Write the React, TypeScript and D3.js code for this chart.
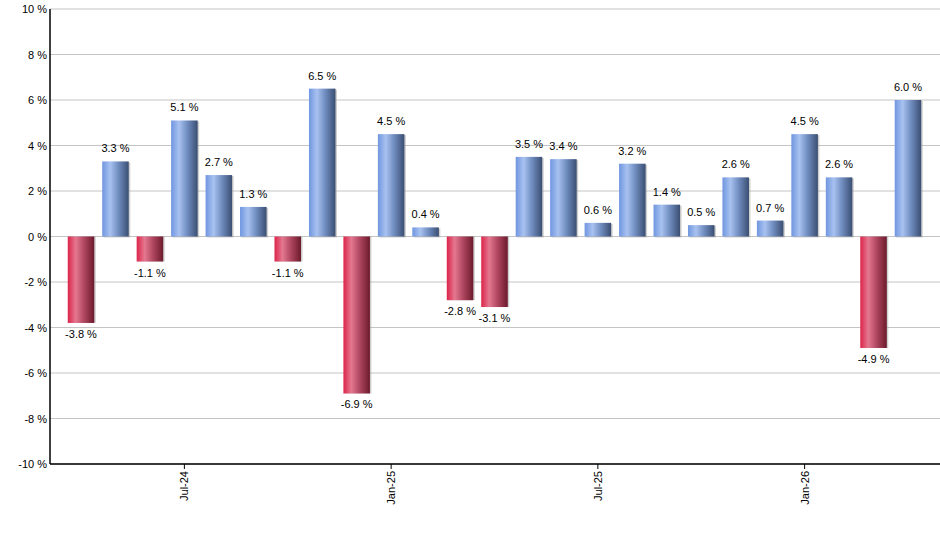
import React, {useEffect, useRef} from 'react';
import * as d3 from 'd3';

// monthly returns, Apr-24 .. Apr-26
const months = [
  'Apr-24', 'May-24', 'Jun-24', 'Jul-24', 'Aug-24', 'Sep-24', 'Oct-24', 'Nov-24', 'Dec-24',
  'Jan-25', 'Feb-25', 'Mar-25', 'Apr-25', 'May-25', 'Jun-25', 'Jul-25', 'Aug-25', 'Sep-25',
  'Oct-25', 'Nov-25', 'Dec-25', 'Jan-26', 'Feb-26', 'Mar-26', 'Apr-26'
];
const returns = [
  -3.8, 3.3, -1.1, 5.1, 2.7, 1.3, -1.1, 6.5, -6.9,
  4.5, 0.4, -2.8, -3.1, 3.5, 3.4, 0.6, 3.2, 1.4,
  0.5, 2.6, 0.7, 4.5, 2.6, -4.9, 6.0
];
const tickMonths = ['Jul-24', 'Jan-25', 'Jul-25', 'Jan-26'];
const yTicks = [-10, -8, -6, -4, -2, 0, 2, 4, 6, 8, 10];

const width = 940, height = 550;
const left = 50, right = 940, top = 9, bottom = 464;

const App: React.FC = () => {
  const ref = useRef<SVGSVGElement>(null);

  useEffect(() => {
    const svg = d3.select(ref.current!);
    svg.selectAll('*').remove();

    const defs = svg.append('defs');
    const grad = (id: string, stops: [number, string][]) => {
      const g = defs.append('linearGradient').attr('id', id)
      .attr('x1', '0%').attr('x2', '100%').attr('y1', '0%').attr('y2', '0%');
      stops.forEach(([o, c]) => g.append('stop').attr('offset', o + '%').attr('stop-color', c));
    };
    grad('pos', [[0, '#7096e0'], [30, '#a8c2f0'], [60, '#728fc2'], [100, '#3a4e72']]);
    grad('neg', [[0, '#dc2449'], [30, '#e47890'], [60, '#b24862'], [100, '#6c1a2c']]);

    const x = d3.scaleBand<string>()
    .domain(months)
    .range([67.75, 921.25])
    .paddingInner(0.23)
    .paddingOuter(0);

    const y = d3.scaleLinear()
    .domain([-10, 10])
    .range([bottom, top]);

    // grid
    svg.append('g')
    .selectAll('line')
    .data(yTicks)
    .enter().append('line')
    .attr('x1', left).attr('x2', right)
    .attr('y1', d => y(d)).attr('y2', d => y(d))
    .attr('stroke', '#c4c4c4')
    .attr('stroke-width', 1);

    // bar shadows
    svg.append('g')
    .selectAll('rect')
    .data(returns)
    .enter().append('rect')
    .attr('x', (_, i) => x(months[i])! + 1.5)
    .attr('width', x.bandwidth())
    .attr('y', d => d >= 0 ? y(d) + 1 : y(0))
    .attr('height', d => Math.abs(y(d) - y(0)))
    .attr('fill', '#a0a0a0')
    .attr('opacity', 0.5);

    // bars
    svg.append('g')
    .selectAll('rect')
    .data(returns)
    .enter().append('rect')
    .attr('x', (_, i) => x(months[i])!)
    .attr('width', x.bandwidth())
    .attr('y', d => d >= 0 ? y(d) : y(0))
    .attr('height', d => Math.abs(y(d) - y(0)))
    .attr('fill', d => d >= 0 ? 'url(#pos)' : 'url(#neg)');

    // value labels
    svg.append('g')
    .selectAll('text')
    .data(returns)
    .enter().append('text')
    .attr('x', (_, i) => x(months[i])! + x.bandwidth() / 2)
    .attr('y', d => d >= 0 ? y(d) - 9 : y(d) + 15)
    .attr('text-anchor', 'middle')
    .attr('font-family', '"Liberation Sans", Arial, sans-serif')
    .attr('font-size', 11)
    .attr('fill', '#000')
    .text(d => d.toFixed(1) + ' %');

    // y axis
    const yAxis = svg.append('g');
    yAxis.append('line')
    .attr('x1', left).attr('x2', left).attr('y1', top).attr('y2', bottom)
    .attr('stroke', '#000').attr('stroke-width', 1.5);
    yAxis.selectAll('text')
    .data(yTicks)
    .enter().append('text')
    .attr('x', left - 3)
    .attr('y', d => y(d) + 4)
    .attr('text-anchor', 'end')
    .attr('font-family', '"Liberation Sans", Arial, sans-serif')
    .attr('font-size', 11)
    .text(d => d + ' %');

    // x axis
    const xAxis = svg.append('g');
    xAxis.append('line')
    .attr('x1', left).attr('x2', right).attr('y1', bottom).attr('y2', bottom)
    .attr('stroke', '#000').attr('stroke-width', 1.5);
    const ticks = xAxis.selectAll('g')
    .data(tickMonths)
    .enter().append('g')
    .attr('transform', d => 'translate(' + (x(d)! + x.bandwidth() / 2) + ',' + bottom + ')');
    ticks.append('line')
    .attr('y1', 0).attr('y2', 5)
    .attr('stroke', '#000').attr('stroke-width', 1);
    ticks.append('text')
    .attr('transform', 'rotate(-90)')
    .attr('x', -7)
    .attr('y', 4)
    .attr('text-anchor', 'end')
    .attr('font-family', '"Liberation Sans", Arial, sans-serif')
    .attr('font-size', 11)
    .text(d => d);
  }, []);

  return (
    <svg ref={ref} width={width} height={height}
         style={{position: 'absolute', left: 0, top: 0, background: '#fff'}}/>
  );
};

export default App;
